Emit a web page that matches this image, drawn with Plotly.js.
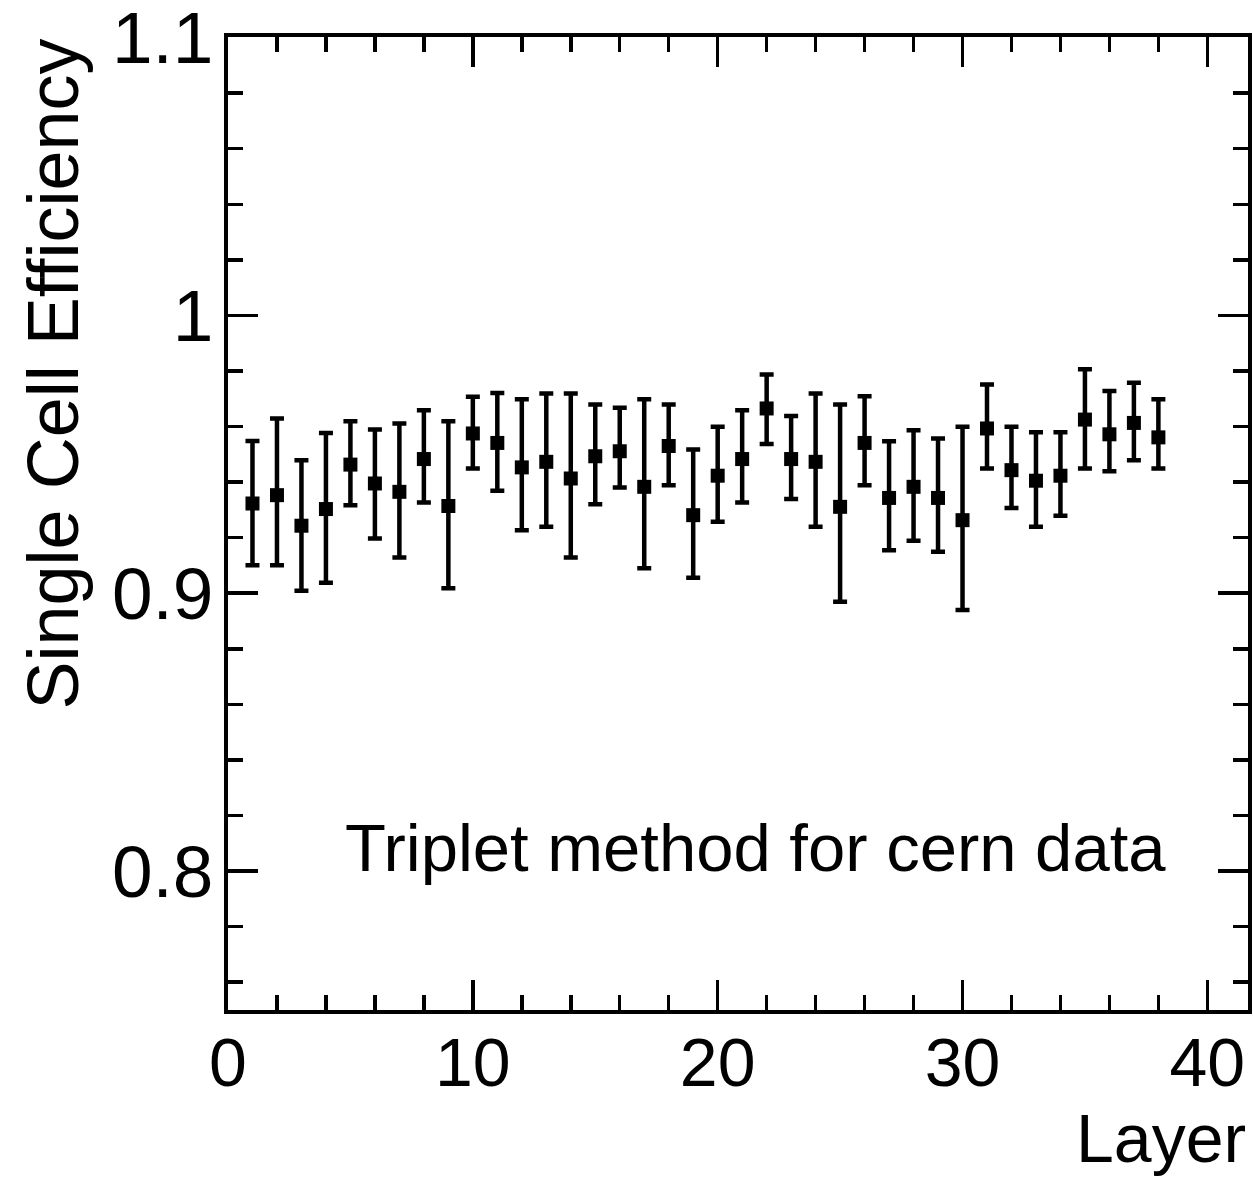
<!DOCTYPE html>
<html>
<head>
<meta charset="utf-8">
<script src="https://cdn.plot.ly/plotly-3.0.1.min.js"></script>
<style>html,body{margin:0;padding:0;background:#fff;}#chart{width:1253px;height:1179px;}</style>
</head>
<body>
<div id="chart"></div>
<script>
const layers = [1,2,3,4,5,6,7,8,9,10,11,12,13,14,15,16,17,18,19,20,21,22,23,24,25,26,27,28,29,30,31,32,33,34,35,36,37,38];
const efficiency = [0.9323,0.9353,0.9243,0.9303,0.9463,0.9395,0.9365,0.9483,0.9314,0.9575,
  0.9541,0.9453,0.9473,0.9413,0.9493,0.9511,0.9383,0.9530,0.9281,0.9423,
  0.9483,0.9665,0.9483,0.9473,0.9311,0.9541,0.9343,0.9383,0.9343,0.9263,
  0.9593,0.9443,0.9405,0.9423,0.9625,0.9572,0.9613,0.9561];
const errUp = [0.0225,0.0276,0.0236,0.0274,0.0156,0.0194,0.0246,0.0176,0.0305,0.0132,
  0.0180,0.0245,0.0246,0.0306,0.0186,0.0157,0.0315,0.0149,0.0236,0.0176,
  0.0176,0.0122,0.0155,0.0246,0.0368,0.0168,0.0204,0.0204,0.0214,0.0336,
  0.0158,0.0156,0.0174,0.0156,0.0181,0.0156,0.0145,0.0137];
const errDown = [0.0222,0.0252,0.0234,0.0265,0.0146,0.0198,0.0236,0.0156,0.0296,0.0126,
  0.0172,0.0226,0.0234,0.0284,0.0173,0.0130,0.0293,0.0141,0.0225,0.0166,
  0.0156,0.0128,0.0144,0.0234,0.0342,0.0152,0.0188,0.0194,0.0194,0.0323,
  0.0144,0.0136,0.0166,0.0144,0.0176,0.0133,0.0134,0.0112];
const yTickVals = [0.8, 0.9, 1.0, 1.1];
const yTickText = ["0.8", "0.9", "1", "1.1"];
const xTickVals = [0, 10, 20, 30, 40];
const xTickText = ["0", "10", "20", "30", "40"];
const xTitle = "Layer";
const yTitle = "Single Cell Efficiency";
const label = "Triplet method for cern data";

const font = "Liberation Sans, Arial, sans-serif";

const trace = {
  x: layers, y: efficiency, type: "scatter", mode: "markers",
  marker: {symbol: "square", size: 14, color: "#000"},
  error_y: {type: "data", symmetric: false, array: errUp, arrayminus: errDown,
            color: "#000", thickness: 4.5, width: 7},
  hoverinfo: "skip", showlegend: false, cliponaxis: false
};

const axisCommon = {
  showgrid: false, zeroline: false, showline: true, linecolor: "#000", linewidth: 4,
  mirror: "allticks", ticks: "inside", tickcolor: "#000", tickwidth: 3.5, ticklen: 30,
  tickmode: "array", ticklabeloverflow: "allow"
};

const layout = {
  width: 1253, height: 1179,
  margin: {l: 228, r: 5, t: 37, b: 169},
  paper_bgcolor: "#fff", plot_bgcolor: "#fff",
  xaxis: Object.assign({}, axisCommon, {
    range: [0, 41.66], tickvals: xTickVals, ticktext: xTickText,
    tickfont: {family: font, size: 68, color: "#000"},
    minor: {dtick: 2, tick0: 0, ticks: "inside", ticklen: 15, tickwidth: 3.5, tickcolor: "#000"},
    ticklabelstandoff: -10
  }),
  yaxis: Object.assign({}, axisCommon, {
    range: [0.75, 1.1002], tickvals: yTickVals, ticktext: yTickText,
    tickfont: {family: font, size: 73, color: "#000"},
    minor: {dtick: 0.02, tick0: 0, ticks: "inside", ticklen: 15, tickwidth: 3.5, tickcolor: "#000"},
    ticklabelstandoff: -4
  }),
  annotations: [
    {text: xTitle, xref: "paper", yref: "paper", x: 1, y: 0, xanchor: "right", yanchor: "top",
     yshift: -88, showarrow: false, font: {family: font, size: 68, color: "#000"}},
    {text: yTitle, xref: "paper", yref: "paper", x: 0, y: 1, xanchor: "center", yanchor: "top",
     xshift: -176, yshift: 0, textangle: -90, showarrow: false,
     font: {family: font, size: 72, color: "#000"}},
    {text: label, xref: "x", yref: "y", x: 4.7, y: 0.8085, xanchor: "left", yanchor: "middle",
     showarrow: false, font: {family: font, size: 67, color: "#000"}}
  ]
};

Plotly.newPlot("chart", [trace], layout, {staticPlot: true, displayModeBar: false});
</script>
</body>
</html>
